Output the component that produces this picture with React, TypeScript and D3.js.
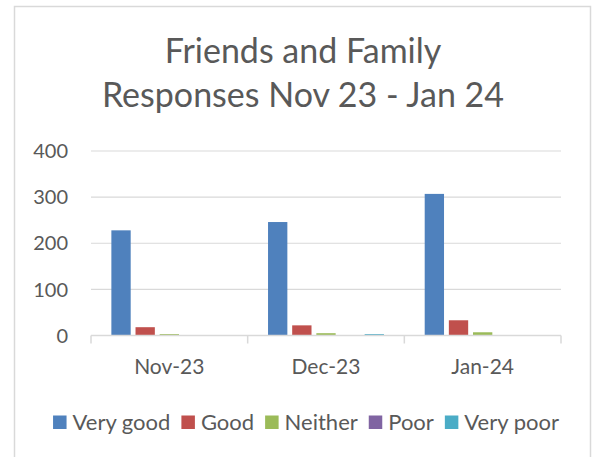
import * as d3 from "d3";
import { useEffect, useRef } from "react";

const months = ["Nov-23", "Dec-23", "Jan-24"];
const seriesNames = ["Very good", "Good", "Neither", "Poor", "Very poor"];
const colors = ["#4F81BD", "#C0504D", "#9BBB59", "#8064A2", "#4BACC6"];
const veryGood = [228, 246, 307];
const good = [18, 22, 33];
const neither = [3, 5, 7];
const poor = [1, 1, 1];
const veryPoor = [1, 3, 0];
const yTicks = [0, 100, 200, 300, 400];
const titleLines = ["Friends and Family", "Responses Nov 23 - Jan 24"];

export default function App() {
  const svgRef = useRef<SVGSVGElement>(null);
  const width = 592;
  const height = 457;
  const margin = { top: 151, right: 31, bottom: 121.5, left: 91 };
  const font = "Lato, 'Open Sans', sans-serif";
  const textColor = "#595959";

  useEffect(() => {
    const svg = d3.select(svgRef.current);
    svg.selectAll("*").remove();

    const values = [veryGood, good, neither, poor, veryPoor];
    const data = months.map((m, i) => ({
      month: m,
      vals: seriesNames.map((s, j) => ({ key: s, value: values[j][i], idx: j })),
    }));

    // chart frame
    svg
      .append("rect")
      .attr("x", 14.5)
      .attr("y", 6.5)
      .attr("width", 576)
      .attr("height", 470)
      .attr("fill", "#fff")
      .attr("stroke", "#d9d9d9")
      .attr("stroke-width", 1.5);

    // title
    const title = svg
      .append("text")
      .attr("text-anchor", "middle")
      .attr("font-family", font)
      .attr("font-size", 34)
      .attr("fill", textColor);
    titleLines.forEach((t, i) => {
      title
        .append("tspan")
        .attr("x", 303)
        .attr("y", 63 + i * 44)
        .text(t);
    });

    const innerW = width - margin.left - margin.right;
    const innerH = height - margin.top - margin.bottom;
    const g = svg.append("g").attr("transform", `translate(${margin.left},${margin.top})`);

    const x0 = d3.scaleBand().domain(months).range([0, innerW]);
    const y = d3.scaleLinear().domain([0, 400]).range([innerH, 0]);
    const groupW = x0.bandwidth() * 0.74;
    const x1 = d3
      .scaleBand()
      .domain(seriesNames)
      .range([(x0.bandwidth() - groupW) / 2, (x0.bandwidth() + groupW) / 2])
      .paddingInner(0.2);

    // gridlines
    g.append("g")
      .selectAll("line")
      .data(yTicks.filter((t) => t > 0))
      .join("line")
      .attr("x1", 0)
      .attr("x2", innerW)
      .attr("y1", (d) => y(d))
      .attr("y2", (d) => y(d))
      .attr("stroke", "#d9d9d9")
      .attr("stroke-width", 1.2);

    // y labels
    g.append("g")
      .selectAll("text")
      .data(yTicks)
      .join("text")
      .attr("x", -23)
      .attr("y", (d) => y(d))
      .attr("dy", "0.36em")
      .attr("text-anchor", "end")
      .attr("font-family", font)
      .attr("font-size", 20)
      .attr("fill", textColor)
      .text((d) => d);

    // bars
    g.append("g")
      .selectAll("g")
      .data(data)
      .join("g")
      .attr("transform", (d) => `translate(${x0(d.month)},0)`)
      .selectAll("rect")
      .data((d) => d.vals)
      .join("rect")
      .attr("x", (d) => x1(d.key)!)
      .attr("width", x1.bandwidth())
      .attr("y", (d) => y(d.value))
      .attr("height", (d) => innerH - y(d.value))
      .attr("fill", (d) => colors[d.idx]);

    // x axis
    const ax = g.append("g").attr("transform", `translate(0,${innerH})`);
    ax.append("line")
      .attr("x1", 0)
      .attr("x2", innerW)
      .attr("stroke", "#d9d9d9")
      .attr("stroke-width", 1.5);
    ax.selectAll("line.tick")
      .data([0, ...months.map((m) => x0(m)! + x0.bandwidth())])
      .join("line")
      .attr("class", "tick")
      .attr("x1", (d) => d)
      .attr("x2", (d) => d)
      .attr("y1", 0)
      .attr("y2", 8)
      .attr("stroke", "#d9d9d9")
      .attr("stroke-width", 1.5);
    ax.selectAll("text")
      .data(months)
      .join("text")
      .attr("x", (d) => x0(d)! + x0.bandwidth() / 2)
      .attr("y", 38)
      .attr("text-anchor", "middle")
      .attr("font-family", font)
      .attr("font-size", 21)
      .attr("fill", textColor)
      .text((d) => d);

    // legend
    const legend = svg.append("g");
    const items = legend
      .selectAll("g")
      .data(seriesNames)
      .join("g");
    items
      .append("rect")
      .attr("width", 13.5)
      .attr("height", 13.5)
      .attr("y", 415.5)
      .attr("fill", (d, i) => colors[i]);
    items
      .append("text")
      .attr("x", 19.5)
      .attr("y", 429.5)
      .attr("font-family", font)
      .attr("font-size", 22)
      .attr("fill", textColor)
      .text((d) => d);
    let cx = 0;
    const offsets: number[] = [];
    items.each(function () {
      offsets.push(cx);
      const t = d3.select(this).select("text").node() as SVGTextElement;
      cx += 19.5 + t.getComputedTextLength() + 11;
    });
    const total = cx - 11;
    const start = 306 - total / 2;
    items.attr("transform", (d, i) => `translate(${start + offsets[i]},0)`);
  }, []);

  return (
    <svg
      ref={svgRef}
      width={width}
      height={height}
      style={{ position: "absolute", left: 0, top: 0, background: "#fff" }}
    ></svg>
  );
}
